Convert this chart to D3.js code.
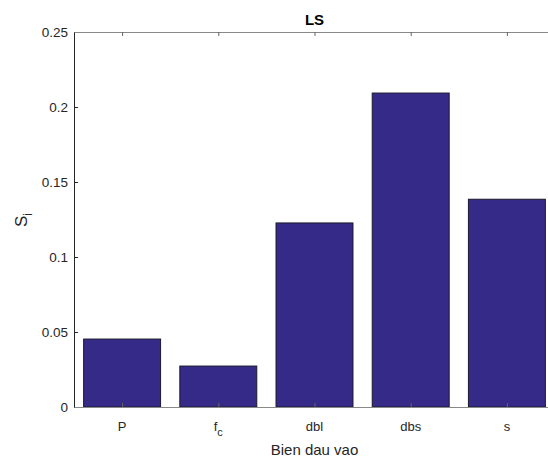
<!DOCTYPE html>
<html><head><meta charset="utf-8">
<script src="https://cdn.jsdelivr.net/npm/d3@7"></script>
<style>body{margin:0;background:#fff}svg{display:block}text{font-family:"Liberation Sans",Arial,sans-serif}</style>
</head><body>
<svg id="c" width="548" height="459"></svg>
<script>
const categories = ["P", "fc", "dbl", "dbs", "s"];
const values = [0.0453, 0.0273, 0.1227, 0.2093, 0.1385];
const yTicks = [0, 0.05, 0.1, 0.15, 0.2, 0.25];
const yTickLabels = ["0", "0.05", "0.1", "0.15", "0.2", "0.25"];

const svg = d3.select("#c");
const pL = 74, pR = 555, pT = 32, pB = 407;
const x = d3.scaleLinear().domain([0.5, 5.5]).range([pL, pR]);
const y = d3.scaleLinear().domain([0, 0.25]).range([pB, pT]);
const idx = categories.map((d, i) => i + 1);

// bars
svg.append("g").selectAll("rect").data(values).join("rect")
  .attr("x", (d, i) => x(i + 1 - 0.4))
  .attr("width", x(1.4) - x(0.6))
  .attr("y", d => y(d))
  .attr("height", d => y(0) - y(d))
  .attr("fill", "#352a87")
  .attr("stroke", "#1a1a2a")
  .attr("stroke-width", 1);

// left axis
const yAxis = d3.axisRight(y).tickValues(yTicks).tickSize(4).tickSizeOuter(0).tickFormat((d, i) => yTickLabels[i]);
const gy = svg.append("g").attr("transform", `translate(${pL},0)`).call(yAxis);
gy.select(".domain").attr("stroke", "#262626");
gy.selectAll(".tick line").attr("stroke", "#262626");
gy.selectAll(".tick text").attr("x", -6).attr("text-anchor", "end").attr("fill", "#262626").attr("font-size", 13.5);

// top axis line with ticks
const gt = svg.append("g").attr("transform", `translate(0,${pT})`)
  .call(d3.axisBottom(x).tickValues(idx).tickSize(4).tickSizeOuter(0).tickFormat(""));
gt.select(".domain").attr("stroke", "#888");
gt.selectAll(".tick line").attr("stroke", "#666");

// bottom axis
const gb = svg.append("g").attr("transform", `translate(0,${pB})`)
  .call(d3.axisTop(x).tickValues(idx).tickSize(4).tickSizeOuter(0).tickFormat(""));
gb.select(".domain").attr("stroke", "#888");
gb.selectAll(".tick line").attr("stroke", "#666");
// bottom labels
const lab = svg.append("g").selectAll("text").data(categories).join("text")
  .attr("x", (d, i) => x(i + 1)).attr("y", pB + 24)
  .attr("text-anchor", "middle").attr("fill", "#262626").attr("font-size", 13);
lab.each(function(d) {
  const t = d3.select(this);
  if (d === "fc") {
    t.append("tspan").text("f");
    t.append("tspan").attr("dy", 5).attr("font-size", 11).text("c");
  } else t.text(d);
});

// title
svg.append("text").attr("x", (pL + pR) / 2).attr("y", 25).attr("text-anchor", "middle")
  .attr("font-weight", "bold").attr("font-size", 15).attr("fill", "#000").text("LS");
// x label
svg.append("text").attr("x", (pL + pR) / 2).attr("y", 455).attr("text-anchor", "middle")
  .attr("font-size", 15).attr("fill", "#262626").text("Bien dau vao");
// y label
const yl = svg.append("text").attr("transform", `translate(27,227) rotate(-90)`)
  .attr("text-anchor", "start").attr("font-size", 17).attr("fill", "#262626");
yl.append("tspan").text("S");
yl.append("tspan").attr("dy", 5).attr("font-size", 12).text("i");
</script>
</body></html>
